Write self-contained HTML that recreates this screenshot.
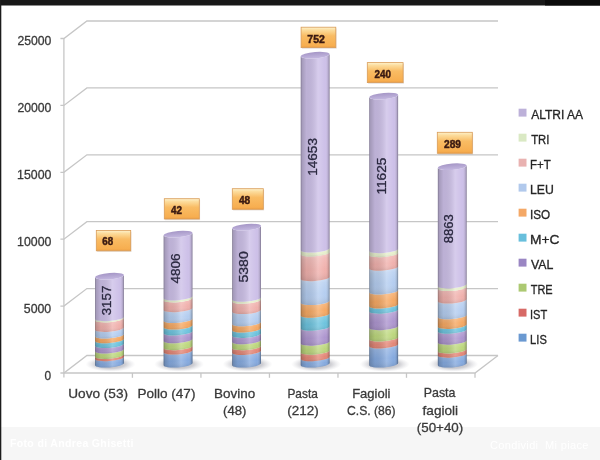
<!DOCTYPE html>
<html><head><meta charset="utf-8"><title>Aminoacidi</title>
<style>
html,body{margin:0;padding:0;background:#fff;}
#wrap{position:relative;width:600px;height:460px;overflow:hidden;background:#fff;}
#foot{position:absolute;left:0;top:427px;width:600px;height:33px;background:#f6f6f6;}
#foot span{position:absolute;top:10px;font-family:"Liberation Sans",sans-serif;font-size:10.5px;font-weight:bold;color:#ffffff;letter-spacing:0.35px;filter:blur(0.5px)}
</style></head><body><div id="wrap">
<div id="foot"><span style="left:10px">Foto di Andrea Ghisetti</span><span style="left:490px;font-weight:normal;font-size:11px;top:12px">Condividi</span><span style="left:545px;font-weight:normal;font-size:11px;top:12px">Mi piace</span></div>
<svg width="600" height="460" viewBox="0 0 600 460" style="position:absolute;left:0;top:0" font-family="'Liberation Sans', sans-serif">
<defs>
<linearGradient id="shade" x1="0" x2="1" y1="0" y2="0">
 <stop offset="0" stop-color="#000" stop-opacity="0.42"/>
 <stop offset="0.04" stop-color="#000" stop-opacity="0.2"/>
 <stop offset="0.2" stop-color="#000" stop-opacity="0.08"/>
 <stop offset="0.6" stop-color="#fff" stop-opacity="0.2"/>
 <stop offset="0.85" stop-color="#fff" stop-opacity="0.0"/>
 <stop offset="0.96" stop-color="#000" stop-opacity="0.15"/>
 <stop offset="1" stop-color="#000" stop-opacity="0.4"/>
</linearGradient>
<linearGradient id="box" x1="0" x2="0" y1="0" y2="1">
 <stop offset="0" stop-color="#fdf2cc"/>
 <stop offset="0.14" stop-color="#fcdc9c"/>
 <stop offset="0.42" stop-color="#f9bc64"/>
 <stop offset="0.9" stop-color="#f7ae50"/>
 <stop offset="1" stop-color="#eb9f46"/>
</linearGradient>
<radialGradient id="shadow">
 <stop offset="0" stop-color="#9c9ca6" stop-opacity="0.95"/>
 <stop offset="0.6" stop-color="#b0b0b8" stop-opacity="0.6"/>
 <stop offset="1" stop-color="#d0d0d6" stop-opacity="0"/>
</radialGradient>
<linearGradient id="seg" x1="0" x2="0" y1="0" y2="1">
 <stop offset="0" stop-color="#fff" stop-opacity="0.40"/>
 <stop offset="0.2" stop-color="#fff" stop-opacity="0.15"/>
 <stop offset="0.6" stop-color="#fff" stop-opacity="0"/>
 <stop offset="1" stop-color="#000" stop-opacity="0.10"/>
</linearGradient>
<linearGradient id="cap" x1="0" x2="0" y1="0" y2="1">
 <stop offset="0" stop-color="#a596c6"/>
 <stop offset="1" stop-color="#c4b8e0"/>
</linearGradient>
</defs>
<path d="M60.4,373.00 L63.9,373.00 L86.9,355.50 L498.0,355.50" fill="none" stroke="#c6c6c6" stroke-width="1.3"/>
<path d="M60.4,306.10 L63.9,306.10 L86.9,288.60 L498.0,288.60" fill="none" stroke="#c6c6c6" stroke-width="1.3"/>
<path d="M60.4,239.20 L63.9,239.20 L86.9,221.70 L498.0,221.70" fill="none" stroke="#c6c6c6" stroke-width="1.3"/>
<path d="M60.4,172.30 L63.9,172.30 L86.9,154.80 L498.0,154.80" fill="none" stroke="#c6c6c6" stroke-width="1.3"/>
<path d="M60.4,105.40 L63.9,105.40 L86.9,87.90 L498.0,87.90" fill="none" stroke="#c6c6c6" stroke-width="1.3"/>
<path d="M60.4,38.50 L63.9,38.50 L86.9,21.00 L498.0,21.00" fill="none" stroke="#c6c6c6" stroke-width="1.3"/>
<path d="M63.9,38.50 L63.9,377.50" stroke="#c6c6c6" stroke-width="1.3" fill="none"/>
<path d="M63.9,373.00 L475.0,373.00 L498.0,355.50" fill="none" stroke="#c6c6c6" stroke-width="1.3"/>
<path d="M132.42,373.00 L132.42,377.80" stroke="#c6c6c6" stroke-width="1.3"/>
<path d="M200.93,373.00 L200.93,377.80" stroke="#c6c6c6" stroke-width="1.3"/>
<path d="M269.45,373.00 L269.45,377.80" stroke="#c6c6c6" stroke-width="1.3"/>
<path d="M337.97,373.00 L337.97,377.80" stroke="#c6c6c6" stroke-width="1.3"/>
<path d="M406.48,373.00 L406.48,377.80" stroke="#c6c6c6" stroke-width="1.3"/>
<path d="M475.00,373.00 L475.00,377.80" stroke="#c6c6c6" stroke-width="1.3"/>
<ellipse cx="110.5" cy="364.2" rx="25" ry="7.5" fill="url(#shadow)"/>
<g transform="translate(109.50,0) skewY(-4.5) translate(-109.50,0)">
<path d="M95.10,357.80 A14.4,3.2 0 0 0 123.90,357.80 L123.90,364.20 A14.4,3.2 0 0 1 95.10,364.20 Z" fill="#84a9df"/>
<path d="M95.10,357.80 A14.4,3.2 0 0 0 123.90,357.80 L123.90,364.20 A14.4,3.2 0 0 1 95.10,364.20 Z" fill="url(#seg)"/>
<path d="M95.10,355.50 A14.4,3.2 0 0 0 123.90,355.50 L123.90,357.80 A14.4,3.2 0 0 1 95.10,357.80 Z" fill="#e48676"/>
<path d="M95.10,350.10 A14.4,3.2 0 0 0 123.90,350.10 L123.90,355.50 A14.4,3.2 0 0 1 95.10,355.50 Z" fill="#bcd77c"/>
<path d="M95.10,350.10 A14.4,3.2 0 0 0 123.90,350.10 L123.90,355.50 A14.4,3.2 0 0 1 95.10,355.50 Z" fill="url(#seg)"/>
<path d="M95.10,344.70 A14.4,3.2 0 0 0 123.90,344.70 L123.90,350.10 A14.4,3.2 0 0 1 95.10,350.10 Z" fill="#ad95cf"/>
<path d="M95.10,344.70 A14.4,3.2 0 0 0 123.90,344.70 L123.90,350.10 A14.4,3.2 0 0 1 95.10,350.10 Z" fill="url(#seg)"/>
<path d="M95.10,339.90 A14.4,3.2 0 0 0 123.90,339.90 L123.90,344.70 A14.4,3.2 0 0 1 95.10,344.70 Z" fill="#6cc3de"/>
<path d="M95.10,339.90 A14.4,3.2 0 0 0 123.90,339.90 L123.90,344.70 A14.4,3.2 0 0 1 95.10,344.70 Z" fill="url(#seg)"/>
<path d="M95.10,335.10 A14.4,3.2 0 0 0 123.90,335.10 L123.90,339.90 A14.4,3.2 0 0 1 95.10,339.90 Z" fill="#f6a862"/>
<path d="M95.10,335.10 A14.4,3.2 0 0 0 123.90,335.10 L123.90,339.90 A14.4,3.2 0 0 1 95.10,339.90 Z" fill="url(#seg)"/>
<path d="M95.10,328.50 A14.4,3.2 0 0 0 123.90,328.50 L123.90,335.10 A14.4,3.2 0 0 1 95.10,335.10 Z" fill="#b4cdf0"/>
<path d="M95.10,328.50 A14.4,3.2 0 0 0 123.90,328.50 L123.90,335.10 A14.4,3.2 0 0 1 95.10,335.10 Z" fill="url(#seg)"/>
<path d="M95.10,319.00 A14.4,3.2 0 0 0 123.90,319.00 L123.90,328.50 A14.4,3.2 0 0 1 95.10,328.50 Z" fill="#f0b0ac"/>
<path d="M95.10,319.00 A14.4,3.2 0 0 0 123.90,319.00 L123.90,328.50 A14.4,3.2 0 0 1 95.10,328.50 Z" fill="url(#seg)"/>
<path d="M95.10,317.80 A14.4,3.2 0 0 0 123.90,317.80 L123.90,319.00 A14.4,3.2 0 0 1 95.10,319.00 Z" fill="#e6efcc"/>
<path d="M95.10,276.20 A14.4,3.2 0 0 0 123.90,276.20 L123.90,317.80 A14.4,3.2 0 0 1 95.10,317.80 Z" fill="#cdc0e8"/>
<path d="M95.10,276.20 A14.4,3.2 0 0 0 123.90,276.20 L123.90,364.20 A14.4,3.2 0 0 1 95.10,364.20 Z" fill="url(#shade)"/>
<ellipse cx="109.50" cy="276.20" rx="14.4" ry="3.2" fill="url(#cap)"/>
</g>
<g transform="translate(111.30,315.20) rotate(-90)"><text x="-0.13" y="0.00" font-size="13.5" fill="#2b2940" stroke="#2b2940" stroke-width="0.3" textLength="29.70" lengthAdjust="spacingAndGlyphs">3157</text></g>
<ellipse cx="179.1" cy="364.2" rx="25" ry="7.5" fill="url(#shadow)"/>
<g transform="translate(178.05,0) skewY(-4.5) translate(-178.05,0)">
<path d="M163.65,351.20 A14.4,3.2 0 0 0 192.45,351.20 L192.45,364.20 A14.4,3.2 0 0 1 163.65,364.20 Z" fill="#84a9df"/>
<path d="M163.65,351.20 A14.4,3.2 0 0 0 192.45,351.20 L192.45,364.20 A14.4,3.2 0 0 1 163.65,364.20 Z" fill="url(#seg)"/>
<path d="M163.65,346.80 A14.4,3.2 0 0 0 192.45,346.80 L192.45,351.20 A14.4,3.2 0 0 1 163.65,351.20 Z" fill="#e48676"/>
<path d="M163.65,346.80 A14.4,3.2 0 0 0 192.45,346.80 L192.45,351.20 A14.4,3.2 0 0 1 163.65,351.20 Z" fill="url(#seg)"/>
<path d="M163.65,339.90 A14.4,3.2 0 0 0 192.45,339.90 L192.45,346.80 A14.4,3.2 0 0 1 163.65,346.80 Z" fill="#bcd77c"/>
<path d="M163.65,339.90 A14.4,3.2 0 0 0 192.45,339.90 L192.45,346.80 A14.4,3.2 0 0 1 163.65,346.80 Z" fill="url(#seg)"/>
<path d="M163.65,332.10 A14.4,3.2 0 0 0 192.45,332.10 L192.45,339.90 A14.4,3.2 0 0 1 163.65,339.90 Z" fill="#ad95cf"/>
<path d="M163.65,332.10 A14.4,3.2 0 0 0 192.45,332.10 L192.45,339.90 A14.4,3.2 0 0 1 163.65,339.90 Z" fill="url(#seg)"/>
<path d="M163.65,326.20 A14.4,3.2 0 0 0 192.45,326.20 L192.45,332.10 A14.4,3.2 0 0 1 163.65,332.10 Z" fill="#6cc3de"/>
<path d="M163.65,326.20 A14.4,3.2 0 0 0 192.45,326.20 L192.45,332.10 A14.4,3.2 0 0 1 163.65,332.10 Z" fill="url(#seg)"/>
<path d="M163.65,319.60 A14.4,3.2 0 0 0 192.45,319.60 L192.45,326.20 A14.4,3.2 0 0 1 163.65,326.20 Z" fill="#f6a862"/>
<path d="M163.65,319.60 A14.4,3.2 0 0 0 192.45,319.60 L192.45,326.20 A14.4,3.2 0 0 1 163.65,326.20 Z" fill="url(#seg)"/>
<path d="M163.65,308.80 A14.4,3.2 0 0 0 192.45,308.80 L192.45,319.60 A14.4,3.2 0 0 1 163.65,319.60 Z" fill="#b4cdf0"/>
<path d="M163.65,308.80 A14.4,3.2 0 0 0 192.45,308.80 L192.45,319.60 A14.4,3.2 0 0 1 163.65,319.60 Z" fill="url(#seg)"/>
<path d="M163.65,299.00 A14.4,3.2 0 0 0 192.45,299.00 L192.45,308.80 A14.4,3.2 0 0 1 163.65,308.80 Z" fill="#f0b0ac"/>
<path d="M163.65,299.00 A14.4,3.2 0 0 0 192.45,299.00 L192.45,308.80 A14.4,3.2 0 0 1 163.65,308.80 Z" fill="url(#seg)"/>
<path d="M163.65,297.10 A14.4,3.2 0 0 0 192.45,297.10 L192.45,299.00 A14.4,3.2 0 0 1 163.65,299.00 Z" fill="#e6efcc"/>
<path d="M163.65,234.10 A14.4,3.2 0 0 0 192.45,234.10 L192.45,297.10 A14.4,3.2 0 0 1 163.65,297.10 Z" fill="#cdc0e8"/>
<path d="M163.65,234.10 A14.4,3.2 0 0 0 192.45,234.10 L192.45,364.20 A14.4,3.2 0 0 1 163.65,364.20 Z" fill="url(#shade)"/>
<ellipse cx="178.05" cy="234.10" rx="14.4" ry="3.2" fill="url(#cap)"/>
</g>
<g transform="translate(179.80,283.70) rotate(-90)"><text x="0.13" y="0.00" font-size="13.5" fill="#2b2940" stroke="#2b2940" stroke-width="0.3" textLength="30.07" lengthAdjust="spacingAndGlyphs">4806</text></g>
<ellipse cx="247.6" cy="364.2" rx="25" ry="7.5" fill="url(#shadow)"/>
<g transform="translate(246.60,0) skewY(-4.5) translate(-246.60,0)">
<path d="M232.20,351.60 A14.4,3.2 0 0 0 261.00,351.60 L261.00,364.20 A14.4,3.2 0 0 1 232.20,364.20 Z" fill="#84a9df"/>
<path d="M232.20,351.60 A14.4,3.2 0 0 0 261.00,351.60 L261.00,364.20 A14.4,3.2 0 0 1 232.20,364.20 Z" fill="url(#seg)"/>
<path d="M232.20,346.80 A14.4,3.2 0 0 0 261.00,346.80 L261.00,351.60 A14.4,3.2 0 0 1 232.20,351.60 Z" fill="#e48676"/>
<path d="M232.20,346.80 A14.4,3.2 0 0 0 261.00,346.80 L261.00,351.60 A14.4,3.2 0 0 1 232.20,351.60 Z" fill="url(#seg)"/>
<path d="M232.20,340.90 A14.4,3.2 0 0 0 261.00,340.90 L261.00,346.80 A14.4,3.2 0 0 1 232.20,346.80 Z" fill="#bcd77c"/>
<path d="M232.20,340.90 A14.4,3.2 0 0 0 261.00,340.90 L261.00,346.80 A14.4,3.2 0 0 1 232.20,346.80 Z" fill="url(#seg)"/>
<path d="M232.20,334.50 A14.4,3.2 0 0 0 261.00,334.50 L261.00,340.90 A14.4,3.2 0 0 1 232.20,340.90 Z" fill="#ad95cf"/>
<path d="M232.20,334.50 A14.4,3.2 0 0 0 261.00,334.50 L261.00,340.90 A14.4,3.2 0 0 1 232.20,340.90 Z" fill="url(#seg)"/>
<path d="M232.20,329.10 A14.4,3.2 0 0 0 261.00,329.10 L261.00,334.50 A14.4,3.2 0 0 1 232.20,334.50 Z" fill="#6cc3de"/>
<path d="M232.20,329.10 A14.4,3.2 0 0 0 261.00,329.10 L261.00,334.50 A14.4,3.2 0 0 1 232.20,334.50 Z" fill="url(#seg)"/>
<path d="M232.20,322.90 A14.4,3.2 0 0 0 261.00,322.90 L261.00,329.10 A14.4,3.2 0 0 1 232.20,329.10 Z" fill="#f6a862"/>
<path d="M232.20,322.90 A14.4,3.2 0 0 0 261.00,322.90 L261.00,329.10 A14.4,3.2 0 0 1 232.20,329.10 Z" fill="url(#seg)"/>
<path d="M232.20,310.70 A14.4,3.2 0 0 0 261.00,310.70 L261.00,322.90 A14.4,3.2 0 0 1 232.20,322.90 Z" fill="#b4cdf0"/>
<path d="M232.20,310.70 A14.4,3.2 0 0 0 261.00,310.70 L261.00,322.90 A14.4,3.2 0 0 1 232.20,322.90 Z" fill="url(#seg)"/>
<path d="M232.20,300.40 A14.4,3.2 0 0 0 261.00,300.40 L261.00,310.70 A14.4,3.2 0 0 1 232.20,310.70 Z" fill="#f0b0ac"/>
<path d="M232.20,300.40 A14.4,3.2 0 0 0 261.00,300.40 L261.00,310.70 A14.4,3.2 0 0 1 232.20,310.70 Z" fill="url(#seg)"/>
<path d="M232.20,298.40 A14.4,3.2 0 0 0 261.00,298.40 L261.00,300.40 A14.4,3.2 0 0 1 232.20,300.40 Z" fill="#e6efcc"/>
<path d="M232.20,227.10 A14.4,3.2 0 0 0 261.00,227.10 L261.00,298.40 A14.4,3.2 0 0 1 232.20,298.40 Z" fill="#cdc0e8"/>
<path d="M232.20,227.10 A14.4,3.2 0 0 0 261.00,227.10 L261.00,364.20 A14.4,3.2 0 0 1 232.20,364.20 Z" fill="url(#shade)"/>
<ellipse cx="246.60" cy="227.10" rx="14.4" ry="3.2" fill="url(#cap)"/>
</g>
<g transform="translate(247.60,282.40) rotate(-90)"><text x="-0.16" y="0.00" font-size="13.5" fill="#2b2940" stroke="#2b2940" stroke-width="0.3" textLength="31.32" lengthAdjust="spacingAndGlyphs">5380</text></g>
<ellipse cx="316.1" cy="364.2" rx="25" ry="7.5" fill="url(#shadow)"/>
<g transform="translate(315.15,0) skewY(-4.5) translate(-315.15,0)">
<path d="M300.75,357.90 A14.4,3.2 0 0 0 329.55,357.90 L329.55,364.20 A14.4,3.2 0 0 1 300.75,364.20 Z" fill="#84a9df"/>
<path d="M300.75,357.90 A14.4,3.2 0 0 0 329.55,357.90 L329.55,364.20 A14.4,3.2 0 0 1 300.75,364.20 Z" fill="url(#seg)"/>
<path d="M300.75,351.30 A14.4,3.2 0 0 0 329.55,351.30 L329.55,357.90 A14.4,3.2 0 0 1 300.75,357.90 Z" fill="#e48676"/>
<path d="M300.75,351.30 A14.4,3.2 0 0 0 329.55,351.30 L329.55,357.90 A14.4,3.2 0 0 1 300.75,357.90 Z" fill="url(#seg)"/>
<path d="M300.75,342.30 A14.4,3.2 0 0 0 329.55,342.30 L329.55,351.30 A14.4,3.2 0 0 1 300.75,351.30 Z" fill="#bcd77c"/>
<path d="M300.75,342.30 A14.4,3.2 0 0 0 329.55,342.30 L329.55,351.30 A14.4,3.2 0 0 1 300.75,351.30 Z" fill="url(#seg)"/>
<path d="M300.75,327.40 A14.4,3.2 0 0 0 329.55,327.40 L329.55,342.30 A14.4,3.2 0 0 1 300.75,342.30 Z" fill="#ad95cf"/>
<path d="M300.75,327.40 A14.4,3.2 0 0 0 329.55,327.40 L329.55,342.30 A14.4,3.2 0 0 1 300.75,342.30 Z" fill="url(#seg)"/>
<path d="M300.75,314.40 A14.4,3.2 0 0 0 329.55,314.40 L329.55,327.40 A14.4,3.2 0 0 1 300.75,327.40 Z" fill="#6cc3de"/>
<path d="M300.75,314.40 A14.4,3.2 0 0 0 329.55,314.40 L329.55,327.40 A14.4,3.2 0 0 1 300.75,327.40 Z" fill="url(#seg)"/>
<path d="M300.75,301.70 A14.4,3.2 0 0 0 329.55,301.70 L329.55,314.40 A14.4,3.2 0 0 1 300.75,314.40 Z" fill="#f6a862"/>
<path d="M300.75,301.70 A14.4,3.2 0 0 0 329.55,301.70 L329.55,314.40 A14.4,3.2 0 0 1 300.75,314.40 Z" fill="url(#seg)"/>
<path d="M300.75,277.80 A14.4,3.2 0 0 0 329.55,277.80 L329.55,301.70 A14.4,3.2 0 0 1 300.75,301.70 Z" fill="#b4cdf0"/>
<path d="M300.75,277.80 A14.4,3.2 0 0 0 329.55,277.80 L329.55,301.70 A14.4,3.2 0 0 1 300.75,301.70 Z" fill="url(#seg)"/>
<path d="M300.75,253.10 A14.4,3.2 0 0 0 329.55,253.10 L329.55,277.80 A14.4,3.2 0 0 1 300.75,277.80 Z" fill="#f0b0ac"/>
<path d="M300.75,253.10 A14.4,3.2 0 0 0 329.55,253.10 L329.55,277.80 A14.4,3.2 0 0 1 300.75,277.80 Z" fill="url(#seg)"/>
<path d="M300.75,249.20 A14.4,3.2 0 0 0 329.55,249.20 L329.55,253.10 A14.4,3.2 0 0 1 300.75,253.10 Z" fill="#e6efcc"/>
<path d="M300.75,249.20 A14.4,3.2 0 0 0 329.55,249.20 L329.55,253.10 A14.4,3.2 0 0 1 300.75,253.10 Z" fill="url(#seg)"/>
<path d="M300.75,55.20 A14.4,3.2 0 0 0 329.55,55.20 L329.55,249.20 A14.4,3.2 0 0 1 300.75,249.20 Z" fill="#cdc0e8"/>
<path d="M300.75,55.20 A14.4,3.2 0 0 0 329.55,55.20 L329.55,364.20 A14.4,3.2 0 0 1 300.75,364.20 Z" fill="url(#shade)"/>
<ellipse cx="315.15" cy="55.20" rx="14.4" ry="3.2" fill="url(#cap)"/>
</g>
<g transform="translate(317.30,175.20) rotate(-90)"><text x="-0.62" y="0.00" font-size="13.5" fill="#2b2940" stroke="#2b2940" stroke-width="0.3" textLength="37.74" lengthAdjust="spacingAndGlyphs">14653</text></g>
<ellipse cx="384.7" cy="364.2" rx="25" ry="7.5" fill="url(#shadow)"/>
<g transform="translate(383.70,0) skewY(-4.5) translate(-383.70,0)">
<path d="M369.30,345.10 A14.4,3.2 0 0 0 398.10,345.10 L398.10,364.20 A14.4,3.2 0 0 1 369.30,364.20 Z" fill="#84a9df"/>
<path d="M369.30,345.10 A14.4,3.2 0 0 0 398.10,345.10 L398.10,364.20 A14.4,3.2 0 0 1 369.30,364.20 Z" fill="url(#seg)"/>
<path d="M369.30,338.10 A14.4,3.2 0 0 0 398.10,338.10 L398.10,345.10 A14.4,3.2 0 0 1 369.30,345.10 Z" fill="#e48676"/>
<path d="M369.30,338.10 A14.4,3.2 0 0 0 398.10,338.10 L398.10,345.10 A14.4,3.2 0 0 1 369.30,345.10 Z" fill="url(#seg)"/>
<path d="M369.30,326.80 A14.4,3.2 0 0 0 398.10,326.80 L398.10,338.10 A14.4,3.2 0 0 1 369.30,338.10 Z" fill="#bcd77c"/>
<path d="M369.30,326.80 A14.4,3.2 0 0 0 398.10,326.80 L398.10,338.10 A14.4,3.2 0 0 1 369.30,338.10 Z" fill="url(#seg)"/>
<path d="M369.30,310.30 A14.4,3.2 0 0 0 398.10,310.30 L398.10,326.80 A14.4,3.2 0 0 1 369.30,326.80 Z" fill="#ad95cf"/>
<path d="M369.30,310.30 A14.4,3.2 0 0 0 398.10,310.30 L398.10,326.80 A14.4,3.2 0 0 1 369.30,326.80 Z" fill="url(#seg)"/>
<path d="M369.30,305.10 A14.4,3.2 0 0 0 398.10,305.10 L398.10,310.30 A14.4,3.2 0 0 1 369.30,310.30 Z" fill="#6cc3de"/>
<path d="M369.30,305.10 A14.4,3.2 0 0 0 398.10,305.10 L398.10,310.30 A14.4,3.2 0 0 1 369.30,310.30 Z" fill="url(#seg)"/>
<path d="M369.30,291.10 A14.4,3.2 0 0 0 398.10,291.10 L398.10,305.10 A14.4,3.2 0 0 1 369.30,305.10 Z" fill="#f6a862"/>
<path d="M369.30,291.10 A14.4,3.2 0 0 0 398.10,291.10 L398.10,305.10 A14.4,3.2 0 0 1 369.30,305.10 Z" fill="url(#seg)"/>
<path d="M369.30,267.40 A14.4,3.2 0 0 0 398.10,267.40 L398.10,291.10 A14.4,3.2 0 0 1 369.30,291.10 Z" fill="#b4cdf0"/>
<path d="M369.30,267.40 A14.4,3.2 0 0 0 398.10,267.40 L398.10,291.10 A14.4,3.2 0 0 1 369.30,291.10 Z" fill="url(#seg)"/>
<path d="M369.30,253.80 A14.4,3.2 0 0 0 398.10,253.80 L398.10,267.40 A14.4,3.2 0 0 1 369.30,267.40 Z" fill="#f0b0ac"/>
<path d="M369.30,253.80 A14.4,3.2 0 0 0 398.10,253.80 L398.10,267.40 A14.4,3.2 0 0 1 369.30,267.40 Z" fill="url(#seg)"/>
<path d="M369.30,249.80 A14.4,3.2 0 0 0 398.10,249.80 L398.10,253.80 A14.4,3.2 0 0 1 369.30,253.80 Z" fill="#e6efcc"/>
<path d="M369.30,249.80 A14.4,3.2 0 0 0 398.10,249.80 L398.10,253.80 A14.4,3.2 0 0 1 369.30,253.80 Z" fill="url(#seg)"/>
<path d="M369.30,96.10 A14.4,3.2 0 0 0 398.10,96.10 L398.10,249.80 A14.4,3.2 0 0 1 369.30,249.80 Z" fill="#cdc0e8"/>
<path d="M369.30,96.10 A14.4,3.2 0 0 0 398.10,96.10 L398.10,364.20 A14.4,3.2 0 0 1 369.30,364.20 Z" fill="url(#shade)"/>
<ellipse cx="383.70" cy="96.10" rx="14.4" ry="3.2" fill="url(#cap)"/>
</g>
<g transform="translate(385.90,194.00) rotate(-90)"><text x="-0.63" y="0.00" font-size="13.5" fill="#2b2940" stroke="#2b2940" stroke-width="0.3" textLength="36.99" lengthAdjust="spacingAndGlyphs">11625</text></g>
<ellipse cx="453.2" cy="364.2" rx="25" ry="7.5" fill="url(#shadow)"/>
<g transform="translate(452.25,0) skewY(-4.5) translate(-452.25,0)">
<path d="M437.85,354.30 A14.4,3.2 0 0 0 466.65,354.30 L466.65,364.20 A14.4,3.2 0 0 1 437.85,364.20 Z" fill="#84a9df"/>
<path d="M437.85,354.30 A14.4,3.2 0 0 0 466.65,354.30 L466.65,364.20 A14.4,3.2 0 0 1 437.85,364.20 Z" fill="url(#seg)"/>
<path d="M437.85,350.00 A14.4,3.2 0 0 0 466.65,350.00 L466.65,354.30 A14.4,3.2 0 0 1 437.85,354.30 Z" fill="#e48676"/>
<path d="M437.85,350.00 A14.4,3.2 0 0 0 466.65,350.00 L466.65,354.30 A14.4,3.2 0 0 1 437.85,354.30 Z" fill="url(#seg)"/>
<path d="M437.85,341.30 A14.4,3.2 0 0 0 466.65,341.30 L466.65,350.00 A14.4,3.2 0 0 1 437.85,350.00 Z" fill="#bcd77c"/>
<path d="M437.85,341.30 A14.4,3.2 0 0 0 466.65,341.30 L466.65,350.00 A14.4,3.2 0 0 1 437.85,350.00 Z" fill="url(#seg)"/>
<path d="M437.85,330.40 A14.4,3.2 0 0 0 466.65,330.40 L466.65,341.30 A14.4,3.2 0 0 1 437.85,341.30 Z" fill="#ad95cf"/>
<path d="M437.85,330.40 A14.4,3.2 0 0 0 466.65,330.40 L466.65,341.30 A14.4,3.2 0 0 1 437.85,341.30 Z" fill="url(#seg)"/>
<path d="M437.85,325.50 A14.4,3.2 0 0 0 466.65,325.50 L466.65,330.40 A14.4,3.2 0 0 1 437.85,330.40 Z" fill="#6cc3de"/>
<path d="M437.85,325.50 A14.4,3.2 0 0 0 466.65,325.50 L466.65,330.40 A14.4,3.2 0 0 1 437.85,330.40 Z" fill="url(#seg)"/>
<path d="M437.85,315.90 A14.4,3.2 0 0 0 466.65,315.90 L466.65,325.50 A14.4,3.2 0 0 1 437.85,325.50 Z" fill="#f6a862"/>
<path d="M437.85,315.90 A14.4,3.2 0 0 0 466.65,315.90 L466.65,325.50 A14.4,3.2 0 0 1 437.85,325.50 Z" fill="url(#seg)"/>
<path d="M437.85,300.20 A14.4,3.2 0 0 0 466.65,300.20 L466.65,315.90 A14.4,3.2 0 0 1 437.85,315.90 Z" fill="#b4cdf0"/>
<path d="M437.85,300.20 A14.4,3.2 0 0 0 466.65,300.20 L466.65,315.90 A14.4,3.2 0 0 1 437.85,315.90 Z" fill="url(#seg)"/>
<path d="M437.85,287.70 A14.4,3.2 0 0 0 466.65,287.70 L466.65,300.20 A14.4,3.2 0 0 1 437.85,300.20 Z" fill="#f0b0ac"/>
<path d="M437.85,287.70 A14.4,3.2 0 0 0 466.65,287.70 L466.65,300.20 A14.4,3.2 0 0 1 437.85,300.20 Z" fill="url(#seg)"/>
<path d="M437.85,285.00 A14.4,3.2 0 0 0 466.65,285.00 L466.65,287.70 A14.4,3.2 0 0 1 437.85,287.70 Z" fill="#e6efcc"/>
<path d="M437.85,166.70 A14.4,3.2 0 0 0 466.65,166.70 L466.65,285.00 A14.4,3.2 0 0 1 437.85,285.00 Z" fill="#cdc0e8"/>
<path d="M437.85,166.70 A14.4,3.2 0 0 0 466.65,166.70 L466.65,364.20 A14.4,3.2 0 0 1 437.85,364.20 Z" fill="url(#shade)"/>
<ellipse cx="452.25" cy="166.70" rx="14.4" ry="3.2" fill="url(#cap)"/>
</g>
<g transform="translate(453.30,243.00) rotate(-90)"><text x="-0.19" y="0.00" font-size="13.5" fill="#2b2940" stroke="#2b2940" stroke-width="0.3" textLength="29.07" lengthAdjust="spacingAndGlyphs">8863</text></g>
<rect x="97.1" y="231.7" width="34.4" height="20.3" fill="#7a5a40" fill-opacity="0.18"/>
<rect x="96.3" y="230.5" width="34.4" height="20.3" fill="url(#box)" stroke="#d99c58" stroke-width="0.8"/>
<text x="102.36" y="245.00" font-size="10.3" font-weight="bold" fill="#3a1a12" stroke="#3a1a12" stroke-width="0.45" textLength="10.86" lengthAdjust="spacingAndGlyphs">68</text>
<rect x="165.1" y="199.9" width="35.0" height="20.3" fill="#7a5a40" fill-opacity="0.18"/>
<rect x="164.3" y="198.7" width="35.0" height="20.3" fill="url(#box)" stroke="#d99c58" stroke-width="0.8"/>
<text x="170.95" y="214.00" font-size="10.3" font-weight="bold" fill="#3a1a12" stroke="#3a1a12" stroke-width="0.45" textLength="11.02" lengthAdjust="spacingAndGlyphs">42</text>
<rect x="233.1" y="189.9" width="31.0" height="20.6" fill="#7a5a40" fill-opacity="0.18"/>
<rect x="232.3" y="188.7" width="31.0" height="20.6" fill="url(#box)" stroke="#d99c58" stroke-width="0.8"/>
<text x="238.95" y="204.00" font-size="10.3" font-weight="bold" fill="#3a1a12" stroke="#3a1a12" stroke-width="0.45" textLength="11.28" lengthAdjust="spacingAndGlyphs">48</text>
<rect x="301.9" y="28.4" width="34.7" height="20.4" fill="#7a5a40" fill-opacity="0.18"/>
<rect x="301.1" y="27.2" width="34.7" height="20.4" fill="url(#box)" stroke="#d99c58" stroke-width="0.8"/>
<text x="307.38" y="42.70" font-size="10.3" font-weight="bold" fill="#3a1a12" stroke="#3a1a12" stroke-width="0.45" textLength="17.52" lengthAdjust="spacingAndGlyphs">752</text>
<rect x="368.1" y="63.8" width="35.8" height="20.0" fill="#7a5a40" fill-opacity="0.18"/>
<rect x="367.3" y="62.6" width="35.8" height="20.0" fill="url(#box)" stroke="#d99c58" stroke-width="0.8"/>
<text x="374.56" y="77.50" font-size="10.3" font-weight="bold" fill="#3a1a12" stroke="#3a1a12" stroke-width="0.45" textLength="16.42" lengthAdjust="spacingAndGlyphs">240</text>
<rect x="438.1" y="133.5" width="35.0" height="21.0" fill="#7a5a40" fill-opacity="0.18"/>
<rect x="437.3" y="132.3" width="35.0" height="21.0" fill="url(#box)" stroke="#d99c58" stroke-width="0.8"/>
<text x="444.04" y="147.70" font-size="10.3" font-weight="bold" fill="#3a1a12" stroke="#3a1a12" stroke-width="0.45" textLength="16.95" lengthAdjust="spacingAndGlyphs">289</text>
<text x="17.39" y="45.10" font-size="12.3" fill="#3a3a3a" stroke="#3a3a3a" stroke-width="0.3" textLength="33.95" lengthAdjust="spacingAndGlyphs">25000</text>
<text x="17.39" y="112.00" font-size="12.3" fill="#3a3a3a" stroke="#3a3a3a" stroke-width="0.3" textLength="33.95" lengthAdjust="spacingAndGlyphs">20000</text>
<text x="17.08" y="178.90" font-size="12.3" fill="#3a3a3a" stroke="#3a3a3a" stroke-width="0.3" textLength="34.26" lengthAdjust="spacingAndGlyphs">15000</text>
<text x="17.08" y="245.80" font-size="12.3" fill="#3a3a3a" stroke="#3a3a3a" stroke-width="0.3" textLength="34.26" lengthAdjust="spacingAndGlyphs">10000</text>
<text x="23.81" y="312.70" font-size="12.3" fill="#3a3a3a" stroke="#3a3a3a" stroke-width="0.3" textLength="27.38" lengthAdjust="spacingAndGlyphs">5000</text>
<text x="44.52" y="379.60" font-size="12.3" fill="#3a3a3a" stroke="#3a3a3a" stroke-width="0.3" textLength="6.60" lengthAdjust="spacingAndGlyphs">0</text>
<text x="68.28" y="397.80" font-size="13.0" fill="#3a3a3a" stroke="#3a3a3a" stroke-width="0.3" textLength="59.75" lengthAdjust="spacingAndGlyphs">Uovo (53)</text>
<text x="137.42" y="397.80" font-size="13.0" fill="#3a3a3a" stroke="#3a3a3a" stroke-width="0.3" textLength="57.99" lengthAdjust="spacingAndGlyphs">Pollo (47)</text>
<text x="214.02" y="397.70" font-size="13.0" fill="#3a3a3a" stroke="#3a3a3a" stroke-width="0.3" textLength="41.15" lengthAdjust="spacingAndGlyphs">Bovino</text>
<text x="223.11" y="415.00" font-size="13.0" fill="#3a3a3a" stroke="#3a3a3a" stroke-width="0.3" textLength="23.32" lengthAdjust="spacingAndGlyphs">(48)</text>
<text x="287.45" y="397.70" font-size="13.0" fill="#3a3a3a" stroke="#3a3a3a" stroke-width="0.3" textLength="30.42" lengthAdjust="spacingAndGlyphs">Pasta</text>
<text x="287.29" y="415.30" font-size="13.0" fill="#3a3a3a" stroke="#3a3a3a" stroke-width="0.3" textLength="31.41" lengthAdjust="spacingAndGlyphs">(212)</text>
<text x="352.16" y="397.50" font-size="13.0" fill="#3a3a3a" stroke="#3a3a3a" stroke-width="0.3" textLength="38.30" lengthAdjust="spacingAndGlyphs">Fagioli</text>
<text x="346.99" y="415.00" font-size="13.0" fill="#3a3a3a" stroke="#3a3a3a" stroke-width="0.3" textLength="48.65" lengthAdjust="spacingAndGlyphs">C.S. (86)</text>
<text x="423.71" y="397.40" font-size="13.0" fill="#3a3a3a" stroke="#3a3a3a" stroke-width="0.3" textLength="31.76" lengthAdjust="spacingAndGlyphs">Pasta</text>
<text x="422.60" y="414.80" font-size="13.0" fill="#3a3a3a" stroke="#3a3a3a" stroke-width="0.3" textLength="35.53" lengthAdjust="spacingAndGlyphs">fagioli</text>
<text x="416.80" y="432.30" font-size="13.0" fill="#3a3a3a" stroke="#3a3a3a" stroke-width="0.3" textLength="46.40" lengthAdjust="spacingAndGlyphs">(50+40)</text>
<rect x="518.6" y="108.70" width="7.9" height="7.9" fill="#bdb1d9"/>
<text x="531.14" y="118.80" font-size="12.3" fill="#262626" stroke="#262626" stroke-width="0.3" textLength="51.98" lengthAdjust="spacingAndGlyphs">ALTRI AA</text>
<rect x="518.6" y="133.70" width="7.9" height="7.9" fill="#dae9c4"/>
<text x="531.17" y="143.80" font-size="12.3" fill="#262626" stroke="#262626" stroke-width="0.3" textLength="18.26" lengthAdjust="spacingAndGlyphs">TRI</text>
<rect x="518.6" y="158.70" width="7.9" height="7.9" fill="#e9b2b1"/>
<text x="530.08" y="168.80" font-size="12.3" fill="#262626" stroke="#262626" stroke-width="0.3" textLength="20.76" lengthAdjust="spacingAndGlyphs">F+T</text>
<rect x="518.6" y="183.70" width="7.9" height="7.9" fill="#b1c9ec"/>
<text x="530.02" y="193.80" font-size="12.3" fill="#262626" stroke="#262626" stroke-width="0.3" textLength="23.80" lengthAdjust="spacingAndGlyphs">LEU</text>
<rect x="518.6" y="208.70" width="7.9" height="7.9" fill="#f4a866"/>
<text x="529.94" y="218.80" font-size="12.3" fill="#262626" stroke="#262626" stroke-width="0.3" textLength="20.22" lengthAdjust="spacingAndGlyphs">ISO</text>
<rect x="518.6" y="233.70" width="7.9" height="7.9" fill="#68bfdc"/>
<text x="529.90" y="243.80" font-size="12.3" fill="#262626" stroke="#262626" stroke-width="0.3" textLength="29.55" lengthAdjust="spacingAndGlyphs">M+C</text>
<rect x="518.6" y="258.70" width="7.9" height="7.9" fill="#9a86c3"/>
<text x="530.94" y="268.80" font-size="12.3" fill="#262626" stroke="#262626" stroke-width="0.3" textLength="22.34" lengthAdjust="spacingAndGlyphs">VAL</text>
<rect x="518.6" y="283.70" width="7.9" height="7.9" fill="#acc972"/>
<text x="530.78" y="293.80" font-size="12.3" fill="#262626" stroke="#262626" stroke-width="0.3" textLength="21.91" lengthAdjust="spacingAndGlyphs">TRE</text>
<rect x="518.6" y="308.70" width="7.9" height="7.9" fill="#d76a66"/>
<text x="530.00" y="318.80" font-size="12.3" fill="#262626" stroke="#262626" stroke-width="0.3" textLength="17.23" lengthAdjust="spacingAndGlyphs">IST</text>
<rect x="518.6" y="333.70" width="7.9" height="7.9" fill="#6a99d1"/>
<text x="530.11" y="343.80" font-size="12.3" fill="#262626" stroke="#262626" stroke-width="0.3" textLength="16.70" lengthAdjust="spacingAndGlyphs">LIS</text>
<rect x="0" y="0" width="600" height="5.5" fill="#181818"/>
<rect x="545" y="0" width="55" height="5.5" fill="#0b0b0b"/>
<rect x="0" y="0" width="1.3" height="460" fill="#1c1c1c"/>
</svg>
</div></body></html>
